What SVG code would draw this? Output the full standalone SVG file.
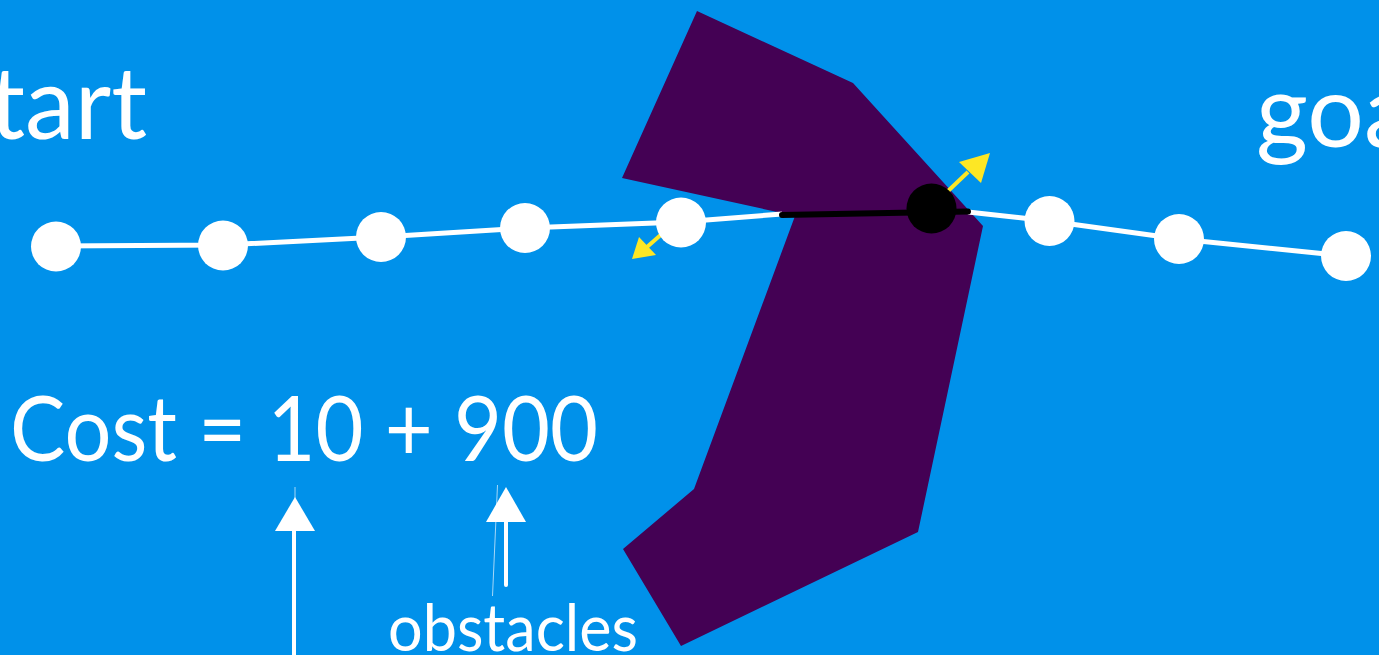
<svg xmlns="http://www.w3.org/2000/svg" width="1379" height="655" viewBox="0 0 1379 655">
<style>
.lbl{font-family:Lato,"Source Sans Pro","Open Sans","Liberation Sans",sans-serif;fill:#ffffff}
.node{fill:#ffffff}
.path{stroke:#ffffff;stroke-width:5;fill:none}
.ya{stroke:#FDE725;stroke-width:4}
.yh{fill:#FDE725}
.wa{stroke:#ffffff;stroke-width:4;stroke-linecap:round}
.wh{fill:#ffffff}
.faint{stroke:#cfe9fb;stroke-width:1;opacity:0.8}
</style>
<rect x="0" y="0" width="1379" height="655" fill="#0091EA"/>
<g id="obstacle">
<polygon points="622,178 697,11 853,83 983,226 918,532 681,646 623,549 694,489 795,216 782,213" fill="#440154"/>
</g>
<g id="connectors">
<polyline class="path" points="56,246 223,245 381,237 525,228 681,222 782,214"/>
<polyline class="path" points="968,212 1049,221 1179,239 1346,256"/>
<line x1="782" y1="215" x2="968" y2="211.5" stroke="#000000" stroke-width="6" stroke-linecap="round"/>
<g id="yellow-arrows">
<line class="ya" x1="947" y1="192" x2="968" y2="172"/>
<polygon class="yh" points="990,153 959,162 981,183"/>
<line class="ya" x1="664" y1="232" x2="647" y2="247"/>
<polygon class="yh" points="632,259 639,237 656,255"/>
</g>
<g id="label-arrows">
<line class="faint" x1="295" y1="487" x2="295" y2="500"/>
<line class="wa" x1="294" y1="528" x2="294" y2="660"/>
<polygon class="wh" points="295,497 275,531 315,531"/>
<line class="faint" x1="497.5" y1="485" x2="492.5" y2="596"/>
<line class="wa" x1="506" y1="518" x2="506" y2="585"/>
<polygon class="wh" points="506,487 486,522 526,522"/>
</g>
</g>
<g id="node-1"><circle class="node" cx="56" cy="246.5" r="25"/></g>
<g id="node-2"><circle class="node" cx="223" cy="245.5" r="25"/></g>
<g id="node-3"><circle class="node" cx="381" cy="237" r="25"/></g>
<g id="node-4"><circle class="node" cx="525" cy="228" r="25"/></g>
<g id="node-5"><circle class="node" cx="681" cy="222.5" r="25"/></g>
<g id="node-colliding"><circle cx="931.5" cy="208.5" r="25" fill="#000000"/></g>
<g id="node-6"><circle class="node" cx="1049.5" cy="221" r="25"/></g>
<g id="node-7"><circle class="node" cx="1179" cy="239" r="25"/></g>
<g id="node-8"><circle class="node" cx="1346" cy="256" r="25"/></g>
<g id="label-start"><text class="lbl" x="147" y="139" font-size="100" text-anchor="end">start</text></g>
<g id="label-goal"><text class="lbl" x="1256" y="147" font-size="100">goal</text></g>
<g id="label-cost"><text class="lbl" x="10" y="461" font-size="92" textLength="588" lengthAdjust="spacingAndGlyphs">Cost = 10 + 900</text></g>
<g id="label-obstacles"><text class="lbl" x="388" y="651" font-size="66" textLength="250" lengthAdjust="spacingAndGlyphs">obstacles</text></g>
</svg>
